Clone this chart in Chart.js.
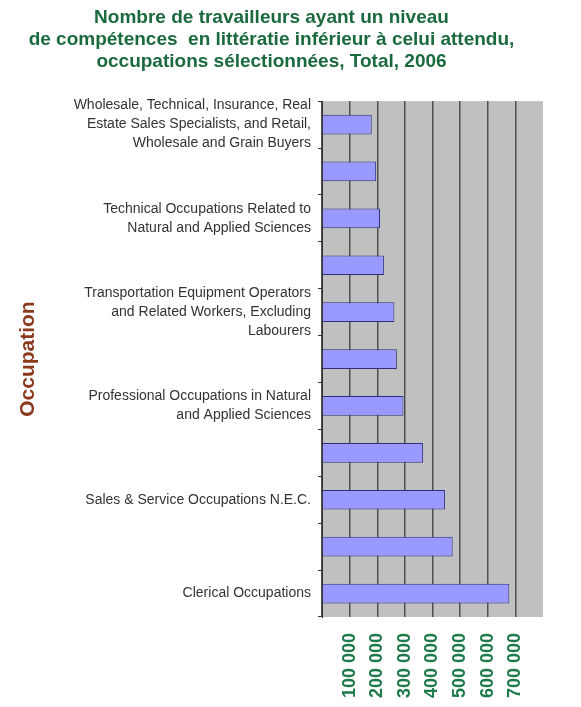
<!DOCTYPE html>
<html>
<head>
<meta charset="utf-8">
<script src="https://cdn.jsdelivr.net/npm/chart.js@4/dist/chart.umd.min.js"></script>
<style>
  body { margin: 0; background: #fff; }
  canvas { display: block; }
</style>
</head>
<body>
<canvas id="barChart" width="581" height="707"></canvas>
<script>
// occupations, top to bottom (every other one has no visible label in the source)
var occupations = [
  ["Wholesale, Technical, Insurance, Real", "Estate Sales Specialists, and Retail,", "Wholesale and Grain Buyers"],
  "",
  ["Technical Occupations Related to", "Natural and Applied Sciences"],
  "",
  ["Transportation Equipment Operators", "and Related Workers, Excluding", "Labourers"],
  "",
  ["Professional Occupations in Natural", "and Applied Sciences"],
  "",
  "Sales & Service Occupations N.E.C.",
  "",
  "Clerical Occupations"
];
var workers = [180000, 196000, 210000, 224000, 262000, 271000, 295000, 366000, 445000, 473000, 678000];
var tickValues = [100000, 200000, 300000, 400000, 500000, 600000, 700000];
var titleLines = [
  "Nombre de travailleurs ayant un niveau",
  "de compétences  en littératie inférieur à celui attendu,",
  "occupations sélectionnées, Total, 2006"
];

var plotBackground = {
  id: 'plotBackground',
  beforeDraw: function (chart) {
    var a = chart.chartArea, c = chart.ctx;
    c.save();
    c.fillStyle = '#c0c0c0';
    c.fillRect(a.left, a.top, a.right - a.left, a.bottom - a.top);
    c.restore();
  }
};

var ctx = document.getElementById("barChart").getContext('2d');
var myChart = new Chart(ctx, {
  type: 'bar',
  data: {
    labels: occupations,
    datasets: [{
      data: workers,
      backgroundColor: '#9999ff',
      borderColor: '#2e2e80',
      borderWidth: 1,
      barPercentage: 0.84,
      categoryPercentage: 0.5
    }]
  },
  plugins: [plotBackground],
  options: {
    indexAxis: 'y',
    responsive: false,
    animation: false,
    layout: { padding: { right: 38 } },
    plugins: {
      legend: { display: false },
      tooltip: { enabled: false },
      title: {
        display: true,
        text: titleLines,
        color: '#1b6a3e',
        font: { family: 'Arial', size: 19, weight: 'bold', lineHeight: 1.16 },
        padding: { top: 7, bottom: 28 }
      }
    },
    scales: {
      x: {
        min: 0,
        max: 800000,
        afterFit: function (s) { s.height = 90; },
        afterBuildTicks: function (s) {
          s.ticks = [0].concat(tickValues, [800000]).map(function (v) { return { value: v }; });
        },
        ticks: {
          autoSkip: false,
          minRotation: 90,
          maxRotation: 90,
          padding: 16,
          color: '#1f7a4a',
          font: { family: 'Arial', size: 18, weight: 'bold' },
          callback: function (v) {
            if (tickValues.indexOf(v) < 0) return '';
            return String(v).replace(/\B(?=(\d{3})+(?!\d))/g, ' ');
          }
        },
        grid: {
          drawTicks: false,
          lineWidth: 1.5,
          color: function (c) { return c.tick && c.tick.value === 800000 ? 'rgba(0,0,0,0)' : '#505050'; }
        },
        border: { display: false }
      },
      y: {
        afterFit: function (s) { s.width = 322; },
        ticks: {
          autoSkip: false,
          padding: 7,
          color: '#333333',
          font: { family: 'Arial', size: 14, lineHeight: 1.36 }
        },
        grid: {
          drawOnChartArea: false,
          tickLength: 4,
          color: '#333333'
        },
        border: { display: true, color: '#333333', width: 1 },
        title: {
          display: true,
          text: 'Occupation',
          color: '#8b3a1e',
          font: { family: 'Arial', size: 21, weight: 'bold' },
          padding: { top: 16, bottom: 0 }
        }
      }
    }
  }
});
</script>
</body>
</html>
